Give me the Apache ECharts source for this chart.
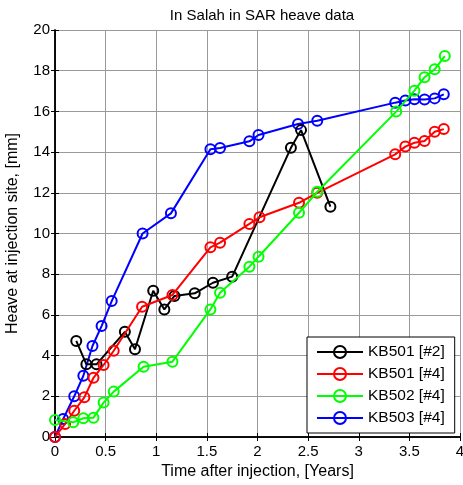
<!DOCTYPE html>
<html>
<head>
<meta charset="utf-8">
<script src="https://cdn.jsdelivr.net/npm/echarts@6/dist/echarts.min.js"></script>
<style>
  html, body { margin: 0; padding: 0; background: #fff; }
  #chart { width: 463px; height: 485px; }
</style>
</head>
<body>
<div id="chart"></div>
<script>
  // values: [years, mm]
  var kb501_2 = [[0.21,4.72],[0.31,3.57],[0.41,3.57],[0.69,5.17],[0.79,4.31],[0.97,7.19],[1.08,6.27],[1.18,6.93],[1.38,7.06],[1.56,7.58],[1.75,7.88],[2.33,14.21],[2.43,15.08],[2.72,11.32]];
  var kb501_4 = [[0,0],[0.1,0.64],[0.19,1.29],[0.29,1.95],[0.38,2.91],[0.48,3.54],[0.58,4.24],[0.86,6.4],[1.16,6.98],[1.535,9.32],[1.63,9.55],[1.92,10.47],[2.02,10.8],[2.41,11.51],[2.59,12.0],[3.36,13.89],[3.46,14.27],[3.55,14.46],[3.65,14.55],[3.75,15.0],[3.84,15.13]];
  var kb502_4 = [[0,0.84],[0.18,0.72],[0.28,0.92],[0.38,0.95],[0.48,1.69],[0.58,2.23],[0.875,3.45],[1.16,3.7],[1.535,6.27],[1.63,7.09],[1.92,8.37],[2.01,8.86],[2.41,11.02],[2.59,12.05],[3.37,15.99],[3.55,17.02],[3.65,17.68],[3.75,18.07],[3.85,18.72]];
  var kb503_4 = [[0,0],[0.08,0.88],[0.19,2.0],[0.28,3.01],[0.37,4.47],[0.46,5.45],[0.56,6.68],[0.865,10.0],[1.145,10.99],[1.535,14.14],[1.63,14.2],[1.92,14.53],[2.01,14.84],[2.4,15.38],[2.59,15.54],[3.36,16.43],[3.46,16.54],[3.55,16.6],[3.65,16.59],[3.75,16.64],[3.84,16.84]];

  var seriesNames = ['KB501 [#2]', 'KB501 [#4]', 'KB502 [#4]', 'KB503 [#4]'];
  var seriesColors = ['#000000', '#ff0000', '#00ff00', '#0000ff'];
  var seriesData = [kb501_2, kb501_4, kb502_4, kb503_4];
  var seriesZ = [3, 4, 5, 2];

  var font = 'Liberation Sans, Arial, sans-serif';
  var chart = echarts.init(document.getElementById('chart'));

  function mkSeries(i) {
    return {
      name: seriesNames[i],
      type: 'line',
      data: seriesData[i],
      symbol: 'circle',
      symbolSize: 10,
      showAllSymbol: true,
      lineStyle: { width: 2, color: seriesColors[i] },
      itemStyle: { color: 'rgba(0,0,0,0)', borderColor: seriesColors[i], borderWidth: 2 },
      z: seriesZ[i],
      animation: false
    };
  }

  var tickStyle = { inside: true, length: 4, lineStyle: { color: '#000' } };

  chart.setOption({
    backgroundColor: '#fff',
    title: {
      text: 'In Salah in SAR heave data',
      left: 257,
      textAlign: 'center',
      top: 3,
      textStyle: { fontFamily: font, fontSize: 15, fontWeight: 'normal', color: '#000' }
    },
    grid: { left: 55, right: 3, top: 30, bottom: 48, outerBoundsMode: 'none' },
    legend: {
      orient: 'vertical',
      left: 307,
      top: 337,
      width: 147,
      padding: [7, 10, 7, 9],
      itemGap: 6,
      itemWidth: 46,
      itemHeight: 15,
      backgroundColor: '#fff',
      borderColor: '#000',
      borderWidth: 1,
      textStyle: { fontFamily: font, fontSize: 15.5, color: '#000' },
      data: seriesNames
    },
    xAxis: [{
      type: 'value', min: 0, max: 4, interval: 0.5,
      name: 'Time after injection, [Years]',
      nameLocation: 'middle', nameGap: 26,
      nameTextStyle: { fontFamily: font, fontSize: 16, color: '#000' },
      axisLine: { lineStyle: { color: '#000', width: 1.5 } },
      axisTick: tickStyle,
      axisLabel: { fontFamily: font, fontSize: 15, color: '#000', margin: 7 },
      splitLine: { show: true, lineStyle: { color: '#9a9a9a', width: 1 } }
    }, {
      type: 'value', min: 0, max: 4, interval: 0.5, position: 'top',
      axisLine: { lineStyle: { color: '#000', width: 1.5 } },
      axisTick: tickStyle, axisLabel: { show: false }, splitLine: { show: false }
    }],
    yAxis: [{
      type: 'value', min: 0, max: 20, interval: 2,
      name: 'Heave at injection site, [mm]',
      nameLocation: 'middle', nameGap: 34,
      nameTextStyle: { fontFamily: font, fontSize: 16, color: '#000' },
      axisLine: { lineStyle: { color: '#000', width: 1.5 } },
      axisTick: tickStyle,
      axisLabel: { fontFamily: font, fontSize: 15, color: '#000', margin: 5 },
      splitLine: { show: true, lineStyle: { color: '#9a9a9a', width: 1 } }
    }, {
      type: 'value', min: 0, max: 20, interval: 2, position: 'right',
      axisLine: { lineStyle: { color: '#000', width: 1.5 } },
      axisTick: tickStyle, axisLabel: { show: false }, splitLine: { show: false }
    }],
    series: [mkSeries(0), mkSeries(1), mkSeries(2), mkSeries(3)]
  });
</script>
</body>
</html>
